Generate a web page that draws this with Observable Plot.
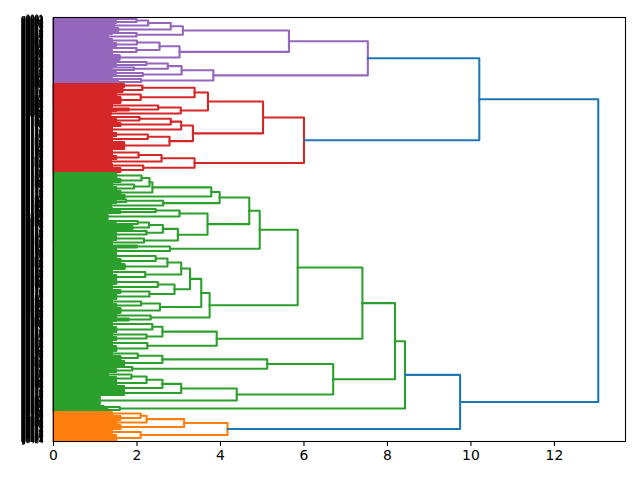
<!DOCTYPE html>
<html>
<head>
<meta charset="utf-8">
<script src="https://cdn.jsdelivr.net/npm/d3@7"></script>
<script src="https://cdn.jsdelivr.net/npm/@observablehq/plot@0.6"></script>
<style>
  html, body { margin: 0; padding: 0; background: #fff; }
  .leaf-labels { will-change: transform; -webkit-font-smoothing: antialiased; }
</style>
</head>
<body>
<div id="chart"></div>
<script>
// Hierarchical clustering linkage, drawn as a right-rooted dendrogram.
// Internal node: [mergeHeight, child, child]
// Leaf group:    [mergeHeight, leafCount]  (leaves joined at that height)

// --- purple cluster ---
const P1a1 = [2.81, [2.27, [1.99, [1.3, 3], [1.5, 3]], [1.45, 4]], [1.55, 4]];
const P1a2 = [1.99, [1.4, 3], [1.3, 4]];
const P1b = [3.02, [2.54, [2.0, [1.4, 4], [1.5, 4]], [1.99, [1.2, 3], [1.4, 5]]], [1.58, 6]];
const P2 = [3.83, [3.07, [2.74, [2.23, [1.3, 3], [1.5, 3]], [1.93, [1.2, 2], [1.4, 3]]],
                         [2.14, [1.5, 3], [1.4, 3]]],
                  [2.1, [1.4, 3], [1.55, 3]]];
const purple = [7.53, [5.64, [3.10, P1a1, P1a2], P1b], P2];

// --- red cluster ---
const R1a = [3.70, [3.38, [2.13, [1.69, 4], [1.65, 5]], [2.09, [1.5, 4], [1.6, 7]]],
                   [3.05, [2.51, [1.4, 4], [1.8, [1.3, 2], [1.5, 2]]], [1.37, 4]]];
const R1b = [3.34, [3.06, [2.81, [2.06, [1.3, 3], [1.5, 4]], [1.6, 4]], [1.4, 6]],
                   [2.78, [2.26, [1.5, 4], [1.4, 5]], [1.69, 8]]];
const R2 = [3.38, [2.59, [2.04, [1.4, 6], [1.5, 4]], [1.37, 4]], [2.15, [1.4, 4], [1.6, 5]]];
const red = [6.0, [5.02, R1a, R1b], R2];

// --- green cluster ---
const G13 = [3.78, [2.37, [2.30, [2.11, [1.5, 6], [1.6, 4]], [1.93, [1.4, 4], [1.5, 4]]], [1.6, 4]], [1.7, 4]];
const G14 = [2.63, [1.74, [1.3, 2], [1.5, 3]], [1.37, 4]];
const G12 = [3.69, [3.02, [2.45, [1.4, 3], [1.6, 3]], [1.29, 6]],
                   [2.98, [2.62, [2.29, [2.02, [1.3, 3], [1.5, 3]], [1.89, 4]], [2.23, [1.4, 3], [1.5, 4]]],
                          [2.17, [1.5, 4], [1.4, 4]]]];
const G10 = [2.79, [2.0, [1.4, 2], [1.5, 2]], [1.5, 5]];
const G8 = [3.74, [3.54, [3.27, [3.06, [2.73, [2.45, [1.5, 5], [1.6, 5]], [1.7, 6]], [2.2, [1.4, 5], [1.5, 5]]],
                               [2.9, [2.5, [1.5, 5], [1.4, 5]], [2.3, [1.6, 4], [1.5, 6]]]],
                         [2.55, [2.1, [1.4, 4], [1.5, 4]], [1.6, 6]]],
                  [2.33, [1.5, 4], [1.8, [1.4, 2], [1.5, 2]]]];
const G6 = [3.91, [2.61, [2.37, [1.4, 5], [1.5, 6]], [2.23, [1.4, 4], [1.5, 4]]], [2.25, [1.4, 5], [1.5, 6]]];
const G15 = [5.12, [2.61, [2.02, [1.4, 4], [1.6, 5]], [1.69, 5]], [1.89, [1.3, 3], [1.5, 4]]];
const G16 = [4.39, [3.06, [2.61, [2.23, [1.87, [1.3, 4], [1.5, 4]], [1.5, 5]], [1.69, 5]], [1.69, 5]], [1.1, 10]];
const G2 = [1.59, [1.2, 3], [1.3, 3]];
const green = [8.42, [8.18, [7.4, [5.85, [4.94, [4.69, [3.98, G13, G14], G12], G10], G8], G6],
                            [6.7, G15, G16]], G2];

// --- orange cluster ---
const orange = [4.17, [3.13, [2.23, [2.09, [1.4, 4], [1.6, 5]], [1.5, 4]], [1.6, 5]],
                      [2.09, [1.4, 5], [1.5, 7]]];

// Merges above the colour threshold
const root = [13.05, [10.2, purple, red], [9.74, green, orange]];

const clusterColor = new Map([
  [purple, "#9467bd"],
  [red, "#d62728"],
  [green, "#2ca02c"],
  [orange, "#ff7f0e"]
]);
const aboveThresholdColor = "#1f77b4";
const xTicks = [0, 2, 4, 6, 8, 10, 12];
const leafPrefix = "g";

// Lay out leaves top to bottom, one unit apart, and collect U-shaped link paths.
const points = [];
const leaves = [];
let pathId = 0;
function addPath(coords, color) {
  const id = pathId++;
  for (const [x, y] of coords) points.push({id, x, y, color});
}
function layout(node, color) {
  if (clusterColor.has(node)) color = clusterColor.get(node);
  const [h, a, b] = node;
  if (typeof a === "number") {
    const ys = [];
    for (let i = 0; i < a; i++) {
      const y = leaves.length + 0.5;
      // leaf id, e.g. g0001
      leaves.push({y, label: leafPrefix + String(leaves.length + 1).padStart(4, "0")});
      ys.push(y);
    }
    if (ys.length === 1) return {h: 0, y: ys[0]};
    const y0 = ys[0], y1 = ys[ys.length - 1];
    addPath([[0, y0], [h, y0], [h, y1], [0, y1]], color);
    for (let i = 1; i < ys.length - 1; i++) addPath([[0, ys[i]], [h, ys[i]]], color);
    return {h, y: (y0 + y1) / 2};
  }
  const L = layout(a, color), R = layout(b, color);
  addPath([[L.h, L.y], [h, L.y], [h, R.y], [R.h, R.y]], color);
  return {h, y: (L.y + R.y) / 2};
}
layout(root, aboveThresholdColor);

const chart = Plot.plot({
  width: 640,
  height: 480,
  marginLeft: 53,
  marginRight: 15,
  marginTop: 17,
  marginBottom: 39,
  style: {fontFamily: "DejaVu Sans", background: "#fff", overflow: "visible"},
  x: {domain: [0, 13.05 * 1.05], label: null},
  y: {domain: [0, leaves.length], reverse: true, axis: null},
  color: {type: "identity"},
  marks: [
    Plot.line(points, {x: "x", y: "y", z: "id", stroke: "color", strokeWidth: 2.08,
                       strokeLinejoin: "round", strokeLinecap: "square", curve: "linear"}),
    Plot.text(leaves, {x: () => 0, y: "y", text: "label", textAnchor: "end", dx: -10,
                       fontSize: 7, fill: "#000", stroke: "#000", strokeWidth: 0.35,
                       lineAnchor: "middle", opacity: 0.99, className: "leaf-labels"}),
    Plot.frame({stroke: "#000", strokeWidth: 1.1}),
    Plot.axisX({ticks: xTicks, tickSize: 4.9, tickPadding: 4, fontSize: 13.9,
                tickFormat: d => String(d), label: null, stroke: "#000", strokeWidth: 1.1})
  ]
});
document.getElementById("chart").appendChild(chart);
</script>
</body>
</html>
